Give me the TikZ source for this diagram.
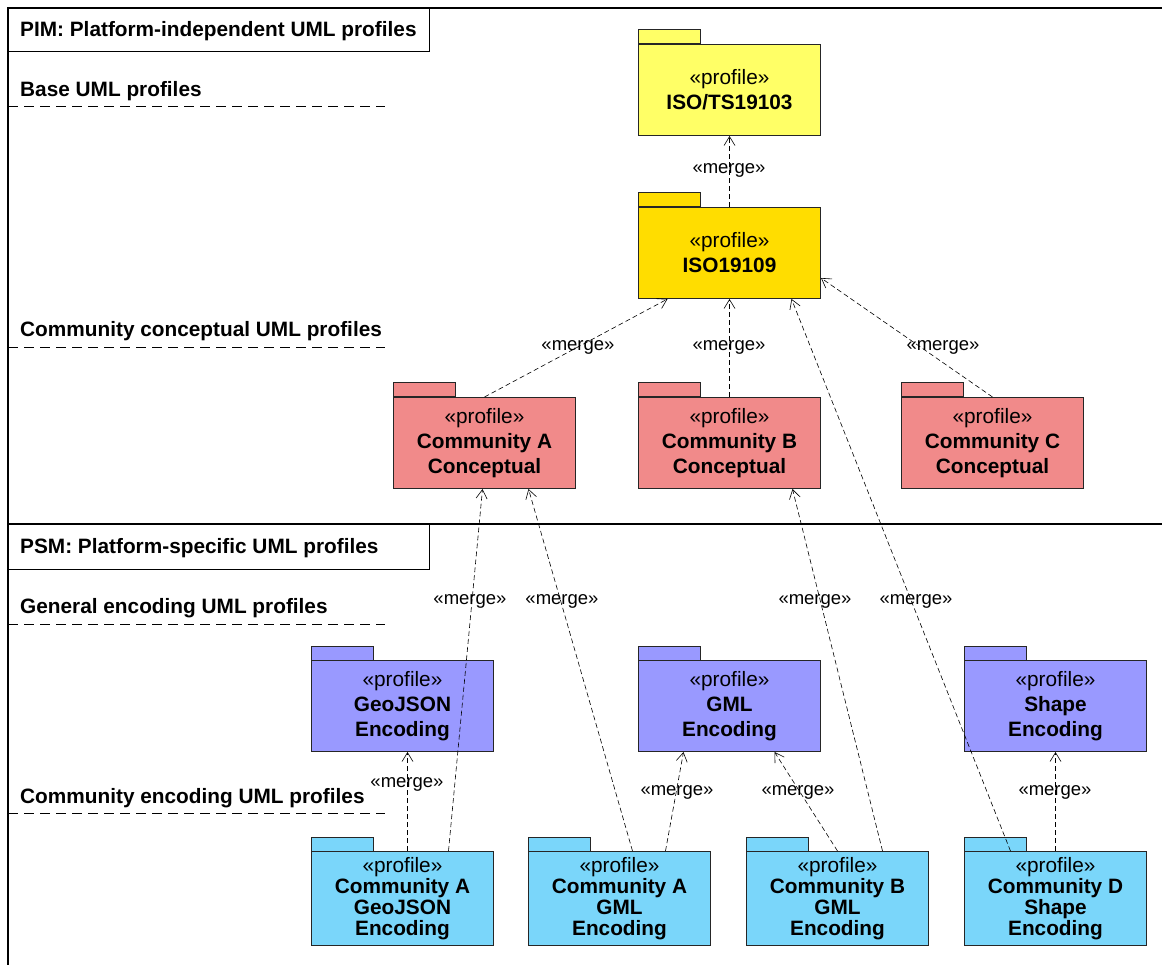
\documentclass[tikz,border=0pt]{standalone}
\usepackage{fontspec}
\setmainfont{Liberation Sans}
\usetikzlibrary{arrows.meta}

\definecolor{baseyellow}{RGB}{255,255,102}
\definecolor{isogold}{RGB}{255,221,0}
\definecolor{conceptred}{RGB}{241,138,138}
\definecolor{encviolet}{RGB}{153,153,255}
\definecolor{commblue}{RGB}{122,214,250}

% package body with its tab on top
\newcommand{\profilepkg}[5][]{%
  \node[pkg, fill=#3, anchor=north west, #1] (#2) at (#4) {#5};
  \draw[pkgline, fill=#3] (#2.north west) rectangle ++(62,-14);
}

\begin{document}
\begin{tikzpicture}[x=1pt, y=-1pt]
        \tikzstyle{pkgline}=[draw=black!85, line width=1pt]
        \tikzstyle{pkg}=[pkgline, minimum width=182pt, minimum height=91pt, inner sep=0pt,
            align=center, font=\fontsize{20.8}{25}\selectfont]
        \tikzstyle{commpkg}=[minimum height=94pt, font=\fontsize{20.8}{21}\selectfont]
        \tikzstyle{merge}=[line width=0.6pt, dash pattern=on 5pt off 3pt,
            -{Straight Barb[length=9pt,width=11pt]}]
        \tikzstyle{mlabel}=[font=\fontsize{18.5}{20}\selectfont, inner sep=0pt]
        \tikzstyle{layer}=[font=\fontsize{20.8}{24}\selectfont\bfseries, anchor=west, inner sep=0pt]
        \tikzstyle{sep}=[line width=0.8pt, dash pattern=on 10pt off 6pt]
        \useasboundingbox (0,0) rectangle (1162,965);

        % frame and the two model headers
        \draw[line width=1.2pt] (8,965) -- (8,8) -- (1162,8);
        \draw[line width=1.2pt] (8,524) -- (1162,524);
        \draw[line width=1pt] (8,8) rectangle (429,52);
        \draw[line width=1pt] (8,524) rectangle (429,569);
        \node[layer] (pim) at (20,31) {PIM: Platform-independent UML profiles};
        \node[layer] (psm) at (20,548) {PSM: Platform-specific UML profiles};

        % layers
        \node[layer] (lbase) at (20,91) {Base UML profiles};
        \node[layer] (lcon) at (20,331) {Community conceptual UML profiles};
        \node[layer] (lgen) at (20,608) {General encoding UML profiles};
        \node[layer] (lcom) at (20,798) {Community encoding UML profiles};
        \draw[sep] (8,106) -- (385,106);
        \draw[sep] (8,347) -- (385,347);
        \draw[sep] (8,624) -- (385,624);
        \draw[sep] (8,813) -- (385,813);

        % profiles
        \profilepkg{ts}{baseyellow}{638,44}{«profile»\\\textbf{ISO/TS19103}}
        \profilepkg{iso}{isogold}{638,207}{«profile»\\\textbf{ISO19109}}
        \profilepkg{cA}{conceptred}{393,397}{«profile»\\\textbf{Community A}\\\textbf{Conceptual}}
        \profilepkg{cB}{conceptred}{638,397}{«profile»\\\textbf{Community B}\\\textbf{Conceptual}}
        \profilepkg{cC}{conceptred}{901,397}{«profile»\\\textbf{Community C}\\\textbf{Conceptual}}
        \profilepkg{geo}{encviolet}{311,660}{«profile»\\\textbf{GeoJSON}\\\textbf{Encoding}}
        \profilepkg{gml}{encviolet}{638,660}{«profile»\\\textbf{GML}\\\textbf{Encoding}}
        \profilepkg{shp}{encviolet}{964,660}{«profile»\\\textbf{Shape}\\\textbf{Encoding}}
        \profilepkg[commpkg]{cAgeo}{commblue}{311,851}{«profile»\\\textbf{Community A}\\\textbf{GeoJSON}\\\textbf{Encoding}}
        \profilepkg[commpkg]{cAgml}{commblue}{528,851}{«profile»\\\textbf{Community A}\\\textbf{GML}\\\textbf{Encoding}}
        \profilepkg[commpkg]{cBgml}{commblue}{746,851}{«profile»\\\textbf{Community B}\\\textbf{GML}\\\textbf{Encoding}}
        \profilepkg[commpkg]{cDshp}{commblue}{964,851}{«profile»\\\textbf{Community D}\\\textbf{Shape}\\\textbf{Encoding}}

        % merges
        \draw[merge] (iso.north) -- (ts.south);
        \draw[merge] (cA.north) -- ([xshift=-62pt]iso.south);
        \draw[merge] (cB.north) -- (iso.south);
        \draw[merge] (cC.north) -- ([yshift=-25pt]iso.east);
        \draw[merge] ([xshift=5pt]cAgeo.north) -- ([xshift=5pt]geo.south);
        \draw[merge] ([xshift=46pt]cAgeo.north) -- ([xshift=-2pt]cA.south);
        \draw[merge] ([xshift=13pt]cAgml.north) -- ([xshift=44pt]cA.south);
        \draw[merge] ([xshift=46pt]cAgml.north) -- ([xshift=-46pt]gml.south);
        \draw[merge] (cBgml.north) -- ([xshift=45pt]gml.south);
        \draw[merge] ([xshift=45pt]cBgml.north) -- ([xshift=63pt]cB.south);
        \draw[merge] ([xshift=-45pt]cDshp.north) -- ([xshift=62pt]iso.south);
        \draw[merge] (cDshp.north) -- (shp.south);

        \node[mlabel] (m1) at (729,170) {«merge»};
        \node[mlabel] (m2) at (578,347) {«merge»};
        \node[mlabel] (m3) at (729,347) {«merge»};
        \node[mlabel] (m4) at (943,347) {«merge»};
        \node[mlabel] (m5) at (407,784) {«merge»};
        \node[mlabel] (m6) at (470,601) {«merge»};
        \node[mlabel] (m7) at (562,601) {«merge»};
        \node[mlabel] (m8) at (677,792) {«merge»};
        \node[mlabel] (m9) at (798,792) {«merge»};
        \node[mlabel] (m10) at (815,601) {«merge»};
        \node[mlabel] (m11) at (916,601) {«merge»};
        \node[mlabel] (m12) at (1055,792) {«merge»};
\end{tikzpicture}
\end{document}
